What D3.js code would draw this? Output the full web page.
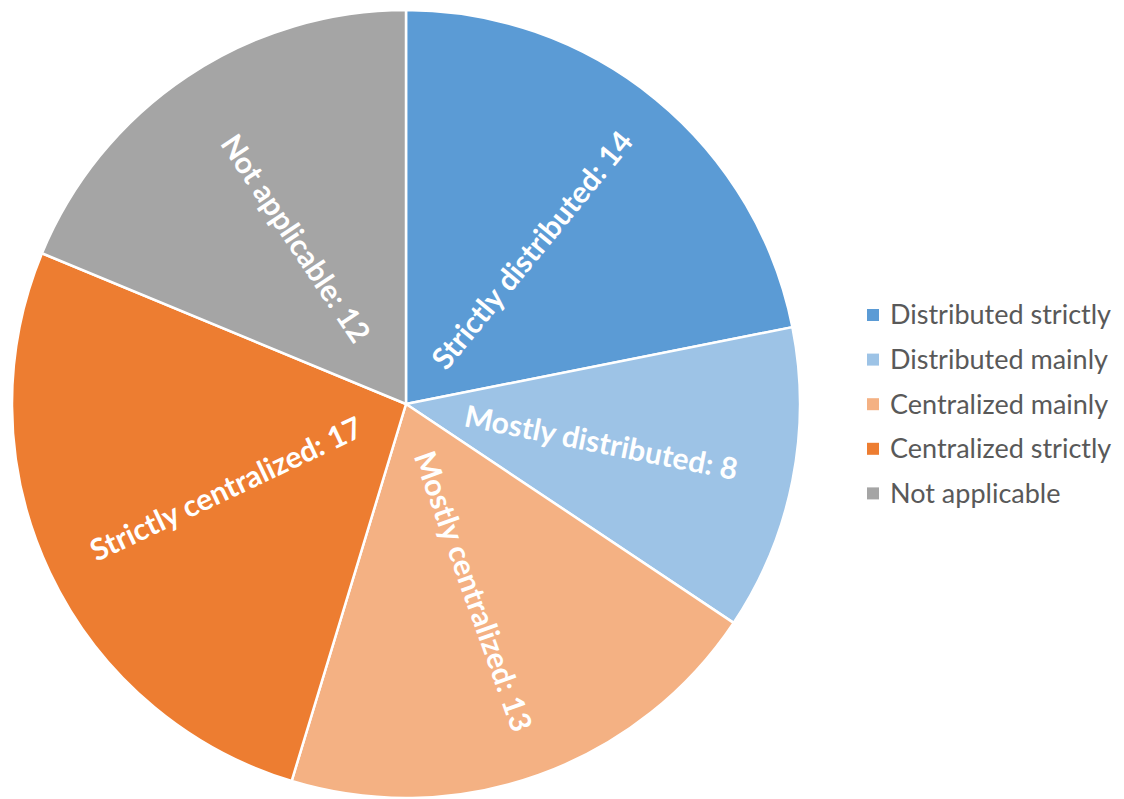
<!DOCTYPE html>
<html>
<head>
<meta charset="utf-8">
<script src="https://cdn.jsdelivr.net/npm/d3@7"></script>
<style>
  body { margin: 0; background: #fff; }
  svg { display: block; }
</style>
</head>
<body>
<script>
// slice data, clockwise from 12 o'clock
var sliceLabels = ["Strictly distributed", "Mostly distributed", "Mostly centralized", "Strictly centralized", "Not applicable"];
var legendLabels = ["Distributed strictly", "Distributed mainly", "Centralized mainly", "Centralized strictly", "Not applicable"];
var counts = [14, 8, 13, 17, 12];
var colors = ["#5B9BD5", "#9DC3E6", "#F4B183", "#ED7D31", "#A5A5A5"];

var width = 1124, height = 799;
var cx = 406, cy = 404, radius = 394;

var svg = d3.select("body").append("svg")
    .attr("width", width)
    .attr("height", height);

var data = counts.map(function (v, i) {
    return { label: sliceLabels[i], legend: legendLabels[i], value: v, color: colors[i] };
});

var pie = d3.pie()
    .sort(null)
    .value(function (d) { return d.value; });

var arc = d3.arc()
    .innerRadius(0)
    .outerRadius(radius);

var g = svg.append("g")
    .attr("transform", "translate(" + cx + "," + cy + ")");

var slices = g.selectAll(".slice")
    .data(pie(data))
    .enter()
    .append("g")
    .attr("class", "slice");

slices.append("path")
    .attr("d", arc)
    .attr("fill", function (d) { return d.data.color; })
    .attr("stroke", "#fff")
    .attr("stroke-width", 2.5)
    .attr("stroke-linejoin", "round");

// labels along the radius, rotated to read outward (right) or inward (left)
var labelR = radius * 0.505;
slices.append("text")
    .attr("transform", function (d) {
        var a = (d.startAngle + d.endAngle) / 2;
        var x = Math.sin(a) * labelR, y = -Math.cos(a) * labelR;
        var deg = a * 180 / Math.PI;
        var rot = deg < 180 ? deg - 90 : deg - 270;
        return "translate(" + x + "," + y + ") rotate(" + rot + ")";
    })
    .attr("text-anchor", "middle")
    .attr("dy", "0.35em")
    .attr("font-family", "Lato, 'Open Sans', sans-serif")
    .attr("font-weight", "bold")
    .attr("font-size", 30)
    .attr("fill", "#fff")
    .text(function (d) { return d.data.label + ": " + d.data.value; });

// legend
var legend = svg.append("g")
    .attr("transform", "translate(867,315)");

var items = legend.selectAll(".item")
    .data(data)
    .enter()
    .append("g")
    .attr("class", "item")
    .attr("transform", function (d, i) { return "translate(0," + (i * 44.6) + ")"; });

items.append("rect")
    .attr("x", 0)
    .attr("y", -6)
    .attr("width", 12)
    .attr("height", 12)
    .attr("fill", function (d) { return d.color; });

items.append("text")
    .attr("x", 23)
    .attr("dy", "0.35em")
    .attr("font-family", "Lato, 'Open Sans', sans-serif")
    .attr("font-size", 27)
    .attr("fill", "#595959")
    .text(function (d) { return d.legend; });
</script>
</body>
</html>
